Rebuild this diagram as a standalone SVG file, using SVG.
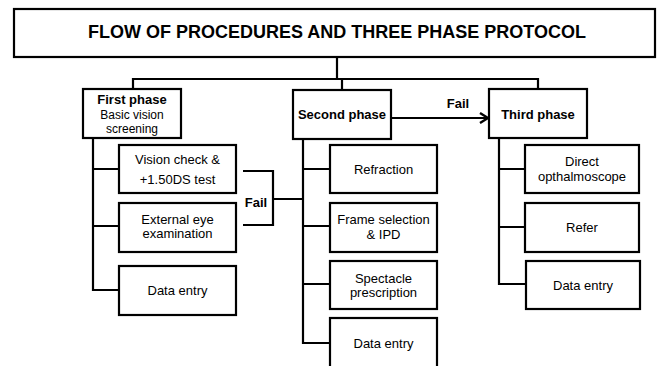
<svg xmlns="http://www.w3.org/2000/svg" width="660" height="366" viewBox="0 0 660 366">
  <defs>
    <marker id="chevron" viewBox="0 0 10 12" refX="9" refY="6" markerWidth="10" markerHeight="12" markerUnits="userSpaceOnUse" orient="auto">
      <path d="M1,1 L9,6 L1,11" fill="none" stroke="#000" stroke-width="2.4"/>
    </marker>
  </defs>
  <style>
    .box { fill: #fff; stroke: #000; stroke-width: 2.2; }
    .wire { fill: none; stroke: #000; stroke-width: 2.2; }
    text { font-family: "Liberation Sans", Arial, sans-serif; font-size: 13px; fill: #000; text-anchor: middle; }
    .b { font-weight: bold; }
    .tight { font-size: 12px; }
    .title { font-size: 18px; font-weight: bold; }
  </style>
  <rect width="660" height="366" fill="#fff"/>

  <!-- connectors -->
  <g id="connectors">
    <!-- title to phases -->
    <path class="wire" d="M337,57 V79 M133,89 V79 H538 V89 M342,79 V90"/>
    <!-- first phase trunk -->
    <path class="wire" d="M93,138 V290 H119 M93,169 H119 M93,226 H119"/>
    <!-- fail bracket to second phase -->
    <path class="wire" d="M243,171 H273 V225 H243 M273,199 H303"/>
    <!-- second phase trunk -->
    <path class="wire" d="M303,139 V343 H330 M303,169 H330 M303,226 H330 M303,284 H330"/>
    <!-- second to third phase -->
    <path class="wire" d="M391,118 H488" marker-end="url(#chevron)"/>
    <!-- third phase trunk -->
    <path class="wire" d="M499,138 V284 H526 M499,169 H525 M499,227 H525"/>
    <text class="b" x="256" y="206.5">Fail</text>
    <text class="b" x="458" y="108">Fail</text>
  </g>

  <g id="title">
    <rect class="box" x="14" y="9" width="641" height="48"/>
    <text class="title" x="337" y="38">FLOW OF PROCEDURES AND THREE PHASE PROTOCOL</text>
  </g>

  <!-- phase 1 -->
  <g id="first-phase">
    <rect class="box" x="83" y="89" width="98" height="49"/>
    <text class="b" x="132" y="104">First phase</text>
    <text class="tight" x="132" y="118.5">Basic vision</text>
    <text class="tight" x="132" y="132.5">screening</text>
  </g>
  <g id="vision-check">
    <rect class="box" x="119" y="145" width="117" height="48"/>
    <text x="177.5" y="164">Vision check &amp;</text>
    <text x="177.5" y="184">+1.50DS test</text>
  </g>
  <g id="external-eye">
    <rect class="box" x="119" y="203" width="117" height="49"/>
    <text x="177.5" y="224.3">External eye</text>
    <text x="177.5" y="238.3">examination</text>
  </g>
  <g id="data-entry-1">
    <rect class="box" x="119" y="266" width="117" height="49"/>
    <text x="177.5" y="295.3">Data entry</text>
  </g>

  <!-- phase 2 -->
  <g id="second-phase">
    <rect class="box" x="293" y="90" width="98" height="49"/>
    <text class="b" x="342" y="119.3">Second phase</text>
  </g>
  <g id="refraction">
    <rect class="box" x="330" y="145" width="107" height="48"/>
    <text x="383.5" y="174">Refraction</text>
  </g>
  <g id="frame-selection">
    <rect class="box" x="330" y="203" width="107" height="49"/>
    <text x="383.5" y="224">Frame selection</text>
    <text x="383.5" y="239">&amp; IPD</text>
  </g>
  <g id="spectacle">
    <rect class="box" x="330" y="261" width="107" height="48"/>
    <text x="383.5" y="282.7">Spectacle</text>
    <text x="383.5" y="296.7">prescription</text>
  </g>
  <g id="data-entry-2">
    <rect class="box" x="330" y="318" width="107" height="60"/>
    <text x="383.5" y="348.3">Data entry</text>
  </g>

  <!-- phase 3 -->
  <g id="third-phase">
    <rect class="box" x="489" y="89" width="98" height="49"/>
    <text class="b" x="538" y="119">Third phase</text>
  </g>
  <g id="direct-ophthalmoscope">
    <rect class="box" x="525" y="145" width="114" height="48"/>
    <text x="582" y="166">Direct</text>
    <text x="582" y="181">opthalmoscope</text>
  </g>
  <g id="refer">
    <rect class="box" x="525" y="203" width="114" height="49"/>
    <text x="582" y="231.7">Refer</text>
  </g>
  <g id="data-entry-3">
    <rect class="box" x="526" y="261" width="114" height="48"/>
    <text x="583" y="290">Data entry</text>
  </g>
</svg>
